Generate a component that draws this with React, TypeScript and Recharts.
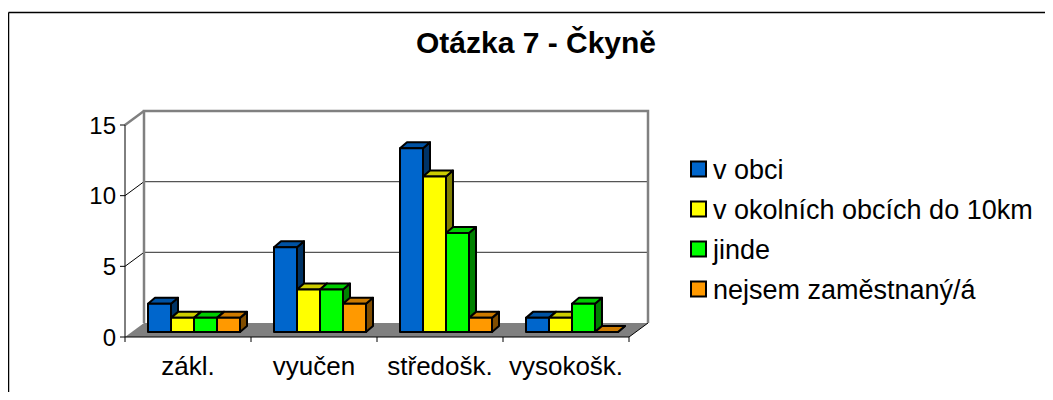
import React from 'react';
import { BarChart, Bar, XAxis, YAxis, Customized } from 'recharts';

const CATEGORIES = ['zákl.', 'vyučen', 'středošk.', 'vysokošk.'];
const V_OBCI = [2, 6, 13, 1];
const V_OKOLNICH = [1, 3, 11, 1];
const JINDE = [1, 3, 7, 2];
const NEJSEM = [1, 2, 1, 0];
const Y_TICKS = [0, 5, 10, 15];
const SERIES_NAMES = ['v obci', 'v okolních obcích do 10km', 'jinde', 'nejsem zaměstnaný/á'];
const TITLE = 'Otázka 7 - Čkyně';

const FONT = '"Liberation Sans", Arial, sans-serif';
const W = 1037;
const H = 384;
// front plane of the 3D box
const PLOT = { left: 117, top: 117, right: 621, bottom: 329 };
const Y_MAX = 15;
const DEPTH = { dx: 19, dy: -14 };
const BAR_SHIFT = { dx: 6, dy: -5 };
const BAR_DEPTH = { dx: 7, dy: -6 };

const COLORS = [
  { face: '#0066CC', top: '#0052A3', side: '#003366' },
  { face: '#FFFF00', top: '#CCCC00', side: '#808000' },
  { face: '#00FF00', top: '#00CC00', side: '#008000' },
  { face: '#FF9900', top: '#CC7A00', side: '#804D00' },
];

const data = CATEGORIES.map((cat, i) => ({
  cat,
  s0: V_OBCI[i],
  s1: V_OKOLNICH[i],
  s2: JINDE[i],
  s3: NEJSEM[i],
}));

const yPix = (v: number) => PLOT.bottom - (v / Y_MAX) * (PLOT.bottom - PLOT.top);

const Bar3D = (props: any) => {
  const { x, y, width, height, colors } = props;
  if (x == null || y == null) return null;
  const fx = x + BAR_SHIFT.dx;
  const fy = y + BAR_SHIFT.dy;
  const h = Math.max(height || 0, 0);
  const { dx, dy } = BAR_DEPTH;
  const top = `${fx},${fy} ${fx + dx},${fy + dy} ${fx + width + dx},${fy + dy} ${fx + width},${fy}`;
  const side = `${fx + width},${fy} ${fx + width + dx},${fy + dy} ${fx + width + dx},${fy + h + dy} ${fx + width},${fy + h}`;
  return (
    <g stroke="#000" strokeWidth={2} strokeLinejoin="round">
      <polygon points={side} fill={colors.side} />
      <polygon points={top} fill={colors.top} />
      {h > 0 && <rect x={fx} y={fy} width={width} height={h} fill={colors.face} />}
    </g>
  );
};

const Walls = () => {
  const bx0 = PLOT.left + DEPTH.dx;
  const bx1 = PLOT.right + DEPTH.dx;
  const by0 = PLOT.bottom + DEPTH.dy;
  const byTop = PLOT.top + DEPTH.dy;
  const band = (PLOT.right - PLOT.left) / CATEGORIES.length;
  return (
    <g>
      {/* floor */}
      <polygon
        points={`${PLOT.left},${PLOT.bottom} ${PLOT.right},${PLOT.bottom} ${bx1},${by0} ${bx0},${by0}`}
        fill="#808080"
      />
      <line x1={PLOT.right} y1={PLOT.bottom} x2={bx1} y2={by0} stroke="#000" strokeWidth={1} />
      {/* grid on back and side walls */}
      {Y_TICKS.filter((t) => t > 0 && t < Y_MAX).map((t) => (
        <g key={t}>
          <line x1={bx0} y1={yPix(t) + DEPTH.dy} x2={bx1} y2={yPix(t) + DEPTH.dy} stroke="#555" strokeWidth={1.2} />
          <line x1={PLOT.left} y1={yPix(t)} x2={bx0} y2={yPix(t) + DEPTH.dy} stroke="#000" strokeWidth={1} />
        </g>
      ))}
      {/* back wall frame */}
      <polyline
        points={`${bx0},${by0} ${bx0},${byTop} ${bx1},${byTop} ${bx1},${by0}`}
        fill="none"
        stroke="#808080"
        strokeWidth={2.5}
      />
      <line x1={PLOT.left} y1={PLOT.top} x2={bx0} y2={byTop} stroke="#808080" strokeWidth={2.5} />
      {/* category boundary ticks */}
      {Array.from({ length: CATEGORIES.length + 1 }, (_, i) => (
        <line
          key={i}
          x1={PLOT.left + i * band}
          y1={PLOT.bottom}
          x2={PLOT.left + i * band}
          y2={PLOT.bottom + 5}
          stroke="#000"
          strokeWidth={1}
        />
      ))}
    </g>
  );
};

const Frame = () => (
  <g>
    <line x1={0.5} y1={4.5} x2={W} y2={4.5} stroke="#000" strokeWidth={1.5} />
    <line x1={0.5} y1={4.5} x2={0.5} y2={H} stroke="#000" strokeWidth={1.5} />
    <text
      x={528}
      y={45}
      textAnchor="middle"
      fontFamily={FONT}
      fontWeight="bold"
      fontSize={30}
      fill="#000"
    >
      {TITLE}
    </text>
  </g>
);

const LegendBlock = () => (
  <g fontFamily={FONT} fontSize={27} fill="#000">
    {SERIES_NAMES.map((name, i) => {
      const cy = 161 + i * 40;
      return (
        <g key={name}>
          <rect x={683} y={cy - 7.5} width={15} height={15} fill={COLORS[i].face} stroke="#000" strokeWidth={2} />
          <text x={705} y={cy} dy="0.36em">
            {name}
          </text>
        </g>
      );
    })}
  </g>
);

export default function App() {
  return (
    <div style={{ width: W, height: H, overflow: 'hidden', background: '#fff' }}>
      <BarChart
        width={W}
        height={H}
        data={data}
        margin={{ top: PLOT.top, left: PLOT.left - 60, right: W - PLOT.right, bottom: H - PLOT.bottom - 30 }}
        barCategoryGap={17}
        barGap={0}
      >
        <Customized component={<Frame />} />
        <Customized component={<Walls />} />
        <XAxis
          dataKey="cat"
          height={30}
          axisLine={{ stroke: '#000', strokeWidth: 1 }}
          tickLine={false}
          tickSize={0}
          tickMargin={20}
          tick={{ fill: '#000', fontSize: 26, fontFamily: FONT }}
          interval={0}
        />
        <YAxis
          width={60}
          domain={[0, Y_MAX]}
          ticks={Y_TICKS}
          allowDataOverflow
          axisLine={{ stroke: '#000', strokeWidth: 1 }}
          tickLine={{ stroke: '#000', strokeWidth: 1 }}
          tickSize={5}
          tickMargin={4}
          tick={{ fill: '#000', fontSize: 24, fontFamily: FONT }}
        />
        {SERIES_NAMES.map((name, i) => (
          <Bar
            key={name}
            dataKey={`s${i}`}
            name={name}
            isAnimationActive={false}
            shape={(p: any) => <Bar3D {...p} colors={COLORS[i]} />}
          />
        ))}
        <Customized component={<LegendBlock />} />
      </BarChart>
    </div>
  );
}
